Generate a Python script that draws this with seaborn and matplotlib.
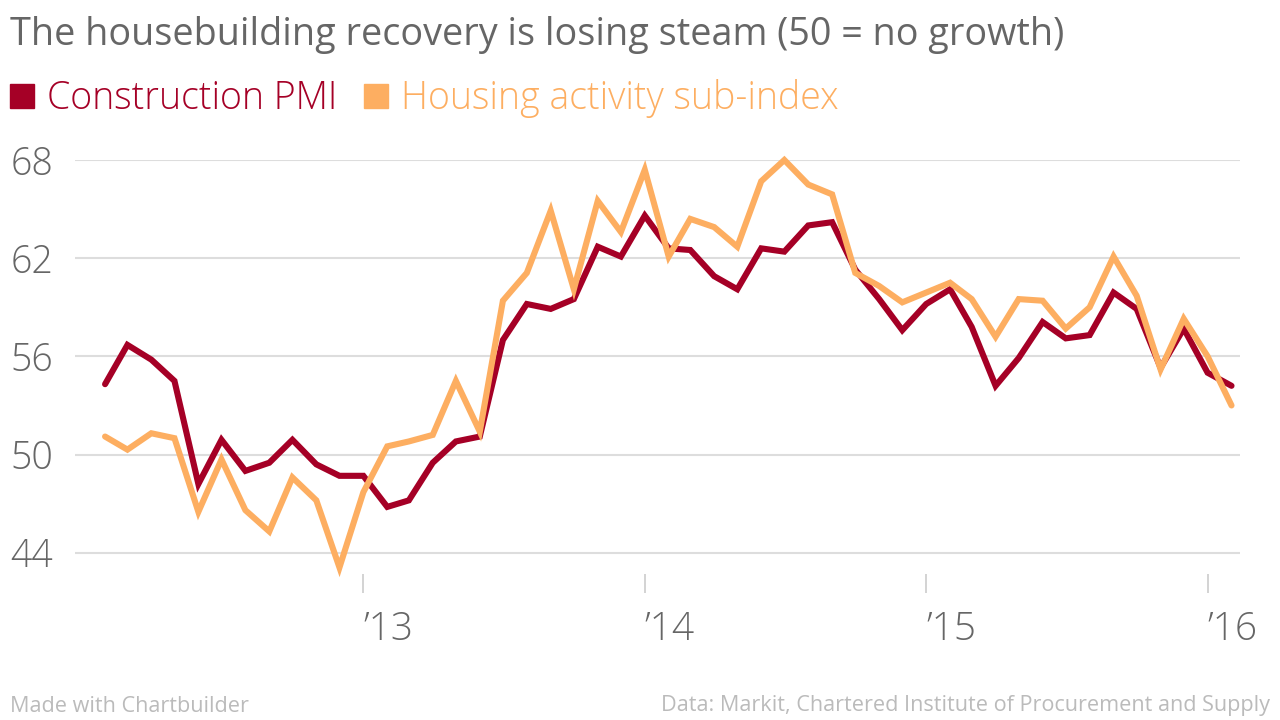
import pandas as pd
import matplotlib
matplotlib.use('Agg')
import matplotlib.pyplot as plt
import seaborn as sns

# Données (indices mensuels, févr. 2012 -> févr. 2016)
mois = pd.date_range('2012-02-01', '2016-02-01', freq='MS')

pmi_construction = [
    54.3, 56.7, 55.8, 54.5, 48.2, 50.9, 49.0, 49.5, 50.9, 49.4, 48.7, 48.7,
    46.8, 47.2, 49.5, 50.8, 51.1, 57.0, 59.2, 58.9, 59.5, 62.7, 62.1, 64.6,
    62.6, 62.5, 60.9, 60.1, 62.6, 62.4, 64.0, 64.2, 61.3, 59.5, 57.6, 59.2,
    60.1, 57.8, 54.2, 55.9, 58.1, 57.1, 57.3, 59.9, 58.9, 55.3, 57.7, 55.0,
    54.2,
]
sous_indice_logement = [
    51.1, 50.3, 51.3, 51.0, 46.5, 49.7, 46.6, 45.3, 48.6, 47.2, 43.1, 47.7,
    50.5, 50.8, 51.2, 54.5, 51.4, 59.4, 61.1, 64.9, 60.1, 65.5, 63.6, 67.4,
    62.1, 64.4, 63.9, 62.7, 66.7, 68.0, 66.5, 65.9, 61.1, 60.3, 59.3, 59.9,
    60.5, 59.5, 57.2, 59.5, 59.4, 57.7, 59.0, 62.1, 59.7, 55.2, 58.3, 56.0,
    53.0,
]
series = ['Construction PMI', 'Housing activity sub-index']
couleurs = ['#a50026', '#fdae61']
ticks_y = [44, 50, 56, 62, 68]
annees = ['2013-01-01', '2014-01-01', '2015-01-01', '2016-01-01']
labels_annees = ["\u201913", "\u201914", "\u201915", "\u201916"]

df = pd.DataFrame({
    'date': list(mois) * 2,
    'valeur': pmi_construction + sous_indice_logement,
    'serie': [series[0]] * len(mois) + [series[1]] * len(mois),
})

sns.set_theme(style='white')
plt.rcParams['font.family'] = ['Open Sans', 'DejaVu Sans']

fig = plt.figure(figsize=(12.8, 7.2), dpi=100)
ax = fig.add_axes([75 / 1280, 1 - 574 / 720, (1240 - 75) / 1280, (574 - 160) / 720])

sns.lineplot(data=df, x='date', y='valeur', hue='serie', hue_order=series,
             palette=couleurs, linewidth=4.4, legend=False, ax=ax)
for ligne in ax.lines:
    ligne.set_clip_on(False)
    ligne.set_solid_joinstyle('miter')

ax.set_ylim(42.7, 68)
ax.set_xlim(pd.Timestamp('2011-12-24'), pd.Timestamp('2016-02-12'))
ax.set_yticks(ticks_y)
ax.yaxis.grid(True, color='#dddddd', linewidth=1.5)
ax.set_axisbelow(True)
ax.tick_params(axis='y', length=0, pad=15.5, labelsize=27, labelcolor='#666666')
for lab in ax.get_yticklabels():
    lab.set_fontweight('light')

ax.set_xticks(pd.to_datetime(annees))
ax.set_xticklabels(labels_annees)
ax.tick_params(axis='x', direction='out', length=14, width=1.2, color='#cccccc',
               pad=12, labelsize=28, labelcolor='#666666', bottom=True)
for lab in ax.get_xticklabels():
    lab.set_horizontalalignment('left')
    lab.set_fontweight('light')

for s in ax.spines.values():
    s.set_visible(False)
ax.set_xlabel('')
ax.set_ylabel('')

# Titre et légende
fig.text(10 / 1280, 1 - 35 / 720, 'The housebuilding recovery is losing steam (50 = no growth)',
         fontsize=27.2, color='#666666', va='center', ha='left')
x_leg = 10
for nom, coul in zip(series, couleurs):
    fig.patches.append(plt.Rectangle((x_leg / 1280, 1 - 108 / 720), 24 / 1280, 24 / 720,
                                     transform=fig.transFigure, color=coul, figure=fig))
    t = fig.text((x_leg + 37) / 1280, 1 - 99 / 720, nom, fontsize=27, color=coul,
                 va='center', ha='left', fontweight='light')
    fig.canvas.draw()
    bb = t.get_window_extent()
    x_leg = bb.x1 + 27

# Pied de page
fig.text(10 / 1280, 1 - 706 / 720, 'Made with Chartbuilder', fontsize=15.6,
         color='#bbbbbb', va='center', ha='left')
fig.text(1270 / 1280, 1 - 706 / 720,
         'Data: Markit, Chartered Institute of Procurement and Supply', fontsize=15.6,
         color='#bbbbbb', va='center', ha='right')

fig.savefig('out.png', dpi=100)
